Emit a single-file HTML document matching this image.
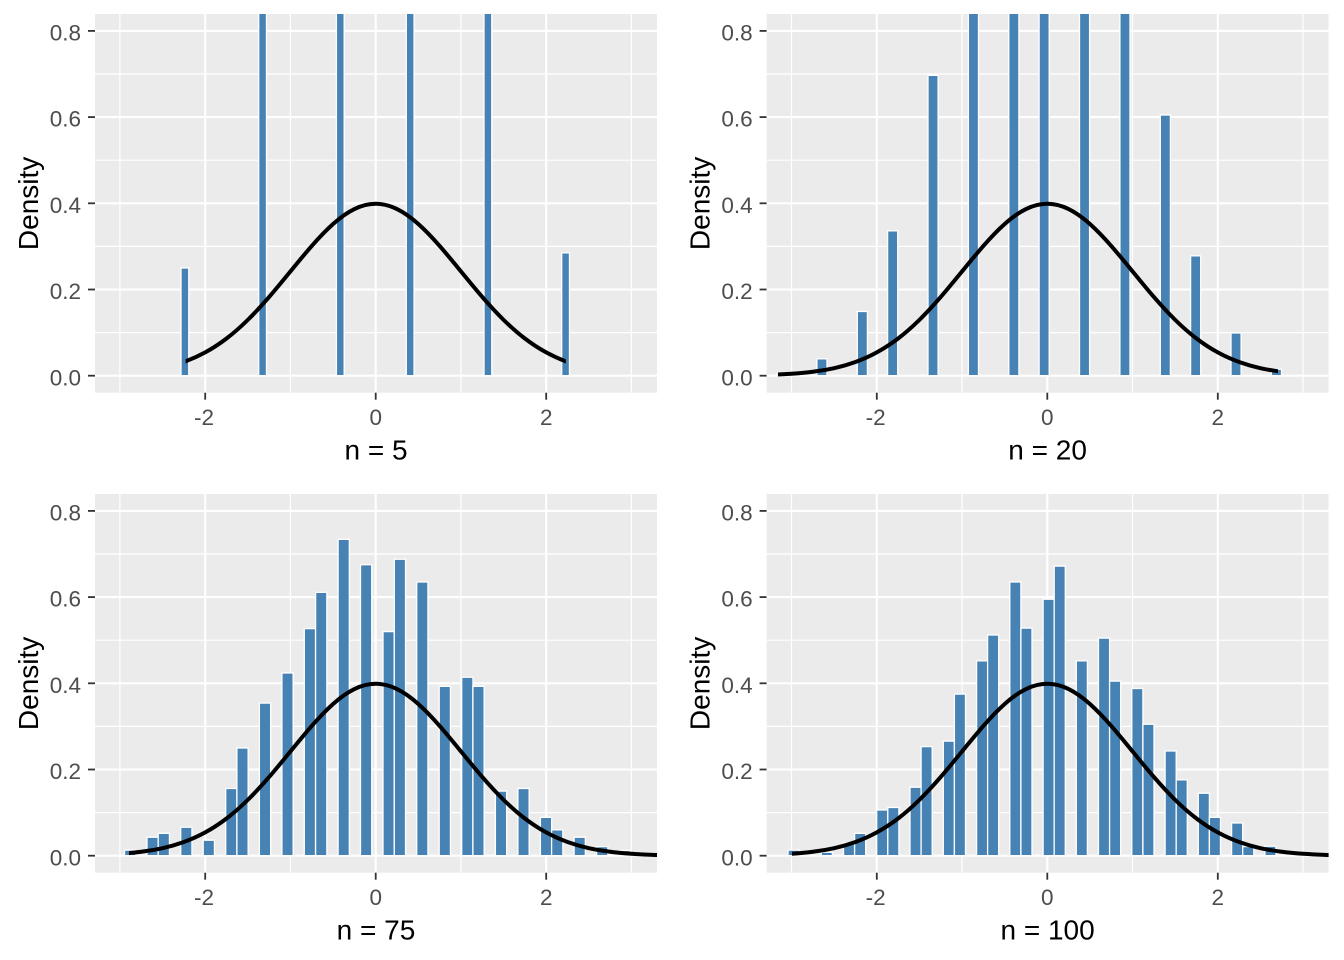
<!DOCTYPE html>
<html><head><meta charset="utf-8"><style>
html,body{margin:0;padding:0;background:#fff;}
svg{display:block;}
.tl{font-family:"Liberation Sans",Arial,sans-serif;font-size:22.5px;fill:#4D4D4D;}
.tt{font-family:"Liberation Sans",Arial,sans-serif;font-size:28px;fill:#000;}
.mn{stroke:#fff;stroke-width:1.2;}
.mj{stroke:#fff;stroke-width:2.1;}
.tk{stroke:#333;stroke-width:1.8;}
.bar rect{fill:#4682B4;stroke:#fff;stroke-width:1.3;vector-effect:non-scaling-stroke;}
.cv{fill:none;stroke:#000;stroke-width:4;vector-effect:non-scaling-stroke;stroke-linejoin:round;}
</style></head><body>
<svg width="1344" height="960" viewBox="0 0 1344 960" xmlns="http://www.w3.org/2000/svg">
<defs>
<clipPath id="pc" clipPathUnits="userSpaceOnUse"><rect x="95" y="14" width="562" height="378.7"/></clipPath>
<clipPath id="c1" clipPathUnits="userSpaceOnUse"><rect x="185.6" y="10" width="380.2" height="382.7"/></clipPath>
<clipPath id="c2" clipPathUnits="userSpaceOnUse"><rect x="106.4" y="10" width="500" height="382.7"/></clipPath>
<clipPath id="c3" clipPathUnits="userSpaceOnUse"><rect x="129" y="10" width="528" height="382.7"/></clipPath>
<clipPath id="c4" clipPathUnits="userSpaceOnUse"><rect x="120.4" y="10" width="536.6" height="382.7"/></clipPath>
<g id="frame">
<rect x="95" y="14" width="562" height="378.7" fill="#EBEBEB"/>
<line class="mn" x1="95" x2="657" y1="332.6" y2="332.6"/>
<line class="mn" x1="95" x2="657" y1="246.4" y2="246.4"/>
<line class="mn" x1="95" x2="657" y1="160.2" y2="160.2"/>
<line class="mn" x1="95" x2="657" y1="74.0" y2="74.0"/>
<line class="mn" x1="119.9" x2="119.9" y1="14" y2="392.7"/>
<line class="mn" x1="290.4" x2="290.4" y1="14" y2="392.7"/>
<line class="mn" x1="460.9" x2="460.9" y1="14" y2="392.7"/>
<line class="mn" x1="631.4" x2="631.4" y1="14" y2="392.7"/>
<line class="mj" x1="95" x2="657" y1="375.7" y2="375.7"/>
<line class="mj" x1="95" x2="657" y1="289.5" y2="289.5"/>
<line class="mj" x1="95" x2="657" y1="203.3" y2="203.3"/>
<line class="mj" x1="95" x2="657" y1="117.1" y2="117.1"/>
<line class="mj" x1="95" x2="657" y1="30.9" y2="30.9"/>
<line class="mj" x1="205.2" x2="205.2" y1="14" y2="392.7"/>
<line class="mj" x1="375.7" x2="375.7" y1="14" y2="392.7"/>
<line class="mj" x1="546.2" x2="546.2" y1="14" y2="392.7"/>
<line class="tk" x1="88" x2="95" y1="375.7" y2="375.7"/>
<line class="tk" x1="88" x2="95" y1="289.5" y2="289.5"/>
<line class="tk" x1="88" x2="95" y1="203.3" y2="203.3"/>
<line class="tk" x1="88" x2="95" y1="117.1" y2="117.1"/>
<line class="tk" x1="88" x2="95" y1="30.9" y2="30.9"/>
<line class="tk" x1="205.2" x2="205.2" y1="392.7" y2="399.7"/>
<line class="tk" x1="375.7" x2="375.7" y1="392.7" y2="399.7"/>
<line class="tk" x1="546.2" x2="546.2" y1="392.7" y2="399.7"/>
<text class="tl" x="81" y="385.3" text-anchor="end">0.0</text>
<text class="tl" x="81" y="299.1" text-anchor="end">0.2</text>
<text class="tl" x="81" y="212.9" text-anchor="end">0.4</text>
<text class="tl" x="81" y="126.7" text-anchor="end">0.6</text>
<text class="tl" x="81" y="40.5" text-anchor="end">0.8</text>
<text class="tl" x="204" y="425" text-anchor="middle">-2</text>
<text class="tl" x="375.7" y="425" text-anchor="middle">0</text>
<text class="tl" x="546.2" y="425" text-anchor="middle">2</text>
<text class="tt" transform="translate(38 203.4) rotate(-90)" text-anchor="middle">Density</text>
</g>
</defs>
<rect width="1344" height="960" fill="#fff"/>

<!-- Panel 1: n = 5 -->
<g>
<use href="#frame"/>
<g clip-path="url(#pc)"><g class="bar" transform="matrix(1,0,0,-431,0,375.7)">
<rect x="181.0" y="0" width="7.77" height="0.25"/>
<rect x="258.7" y="0" width="7.77" height="1"/>
<rect x="336.4" y="0" width="7.77" height="1"/>
<rect x="406.3" y="0" width="7.77" height="1"/>
<rect x="484.0" y="0" width="7.77" height="1"/>
<rect x="561.7" y="0" width="7.77" height="0.285"/>
</g></g>
<g clip-path="url(#c1)"><path class="cv" transform="matrix(85.25,0,0,-431,375.7,375.7)" d="M-3.5 0.00087 C-3.4167 0.00113 -3.3333 0.00148 -3.25 0.00203 C-3.1667 0.00258 -3.0833 0.00332 -3 0.00443 C-2.9167 0.00554 -2.8333 0.00701 -2.75 0.00909 C-2.6667 0.01117 -2.5833 0.01388 -2.5 0.01753 C-2.4167 0.02118 -2.3333 0.02579 -2.25 0.03174 C-2.1667 0.03769 -2.0833 0.04499 -2 0.05399 C-1.9167 0.06299 -1.8333 0.0737 -1.75 0.08628 C-1.6667 0.09886 -1.5833 0.11333 -1.5 0.12952 C-1.4167 0.14571 -1.3333 0.16362 -1.25 0.18265 C-1.1667 0.20168 -1.0833 0.22181 -1 0.24197 C-0.9167 0.26213 -0.8333 0.28232 -0.75 0.30114 C-0.6667 0.31996 -0.5833 0.3374 -0.5 0.35207 C-0.4167 0.36674 -0.3333 0.37861 -0.25 0.38667 C-0.1667 0.39473 -0.0833 0.39894 0 0.39894 C0.0833 0.39894 0.1667 0.39473 0.25 0.38667 C0.3333 0.37861 0.4167 0.36674 0.5 0.35207 C0.5833 0.3374 0.6667 0.31996 0.75 0.30114 C0.8333 0.28232 0.9167 0.26213 1 0.24197 C1.0833 0.22181 1.1667 0.20168 1.25 0.18265 C1.3333 0.16362 1.4167 0.14571 1.5 0.12952 C1.5833 0.11333 1.6667 0.09886 1.75 0.08628 C1.8333 0.0737 1.9167 0.06299 2 0.05399 C2.0833 0.04499 2.1667 0.03769 2.25 0.03174 C2.3333 0.02579 2.4167 0.02118 2.5 0.01753 C2.5833 0.01388 2.6667 0.01117 2.75 0.00909 C2.8333 0.00701 2.9167 0.00554 3 0.00443 C3.0833 0.00332 3.1667 0.00258 3.25 0.00203 C3.3333 0.00148 3.4167 0.00113 3.5 0.00087"/></g>
<text class="tt" x="376" y="459.5" text-anchor="middle">n = 5</text>
</g>

<!-- Panel 2: n = 20 -->
<g transform="translate(671.6 0)">
<use href="#frame"/>
<g clip-path="url(#pc)"><g class="bar" transform="matrix(1,0,0,-431,0,375.7)">
<rect x="104.9" y="0" width="10.1" height="0.004"/>
<rect x="145.3" y="0" width="10.1" height="0.039"/>
<rect x="185.7" y="0" width="10.1" height="0.149"/>
<rect x="216.0" y="0" width="10.1" height="0.336"/>
<rect x="256.4" y="0" width="10.1" height="0.697"/>
<rect x="296.8" y="0" width="10.1" height="1"/>
<rect x="337.2" y="0" width="10.1" height="1"/>
<rect x="367.5" y="0" width="10.1" height="1"/>
<rect x="407.9" y="0" width="10.1" height="1"/>
<rect x="448.3" y="0" width="10.1" height="1"/>
<rect x="488.7" y="0" width="10.1" height="0.605"/>
<rect x="519.0" y="0" width="10.1" height="0.278"/>
<rect x="559.4" y="0" width="10.1" height="0.099"/>
<rect x="599.8" y="0" width="10.1" height="0.015"/>
</g></g>
<g clip-path="url(#c2)"><path class="cv" transform="matrix(85.25,0,0,-431,375.7,375.7)" d="M-3.5 0.00087 C-3.4167 0.00113 -3.3333 0.00148 -3.25 0.00203 C-3.1667 0.00258 -3.0833 0.00332 -3 0.00443 C-2.9167 0.00554 -2.8333 0.00701 -2.75 0.00909 C-2.6667 0.01117 -2.5833 0.01388 -2.5 0.01753 C-2.4167 0.02118 -2.3333 0.02579 -2.25 0.03174 C-2.1667 0.03769 -2.0833 0.04499 -2 0.05399 C-1.9167 0.06299 -1.8333 0.0737 -1.75 0.08628 C-1.6667 0.09886 -1.5833 0.11333 -1.5 0.12952 C-1.4167 0.14571 -1.3333 0.16362 -1.25 0.18265 C-1.1667 0.20168 -1.0833 0.22181 -1 0.24197 C-0.9167 0.26213 -0.8333 0.28232 -0.75 0.30114 C-0.6667 0.31996 -0.5833 0.3374 -0.5 0.35207 C-0.4167 0.36674 -0.3333 0.37861 -0.25 0.38667 C-0.1667 0.39473 -0.0833 0.39894 0 0.39894 C0.0833 0.39894 0.1667 0.39473 0.25 0.38667 C0.3333 0.37861 0.4167 0.36674 0.5 0.35207 C0.5833 0.3374 0.6667 0.31996 0.75 0.30114 C0.8333 0.28232 0.9167 0.26213 1 0.24197 C1.0833 0.22181 1.1667 0.20168 1.25 0.18265 C1.3333 0.16362 1.4167 0.14571 1.5 0.12952 C1.5833 0.11333 1.6667 0.09886 1.75 0.08628 C1.8333 0.0737 1.9167 0.06299 2 0.05399 C2.0833 0.04499 2.1667 0.03769 2.25 0.03174 C2.3333 0.02579 2.4167 0.02118 2.5 0.01753 C2.5833 0.01388 2.6667 0.01117 2.75 0.00909 C2.8333 0.00701 2.9167 0.00554 3 0.00443 C3.0833 0.00332 3.1667 0.00258 3.25 0.00203 C3.3333 0.00148 3.4167 0.00113 3.5 0.00087"/></g>
<text class="tt" x="376" y="459.5" text-anchor="middle">n = 20</text>
</g>

<!-- Panel 3: n = 75 -->
<g transform="translate(0 480)">
<use href="#frame"/>
<g clip-path="url(#pc)"><g class="bar" transform="matrix(1,0,0,-431,0,375.7)">
<rect x="124.5" y="0" width="11.24" height="0.013"/>
<rect x="147.0" y="0" width="11.24" height="0.043"/>
<rect x="158.2" y="0" width="11.24" height="0.052"/>
<rect x="180.7" y="0" width="11.24" height="0.066"/>
<rect x="203.2" y="0" width="11.24" height="0.036"/>
<rect x="225.7" y="0" width="11.24" height="0.156"/>
<rect x="236.9" y="0" width="11.24" height="0.25"/>
<rect x="259.4" y="0" width="11.24" height="0.354"/>
<rect x="281.9" y="0" width="11.24" height="0.424"/>
<rect x="304.3" y="0" width="11.24" height="0.527"/>
<rect x="315.6" y="0" width="11.24" height="0.611"/>
<rect x="338.1" y="0" width="11.24" height="0.734"/>
<rect x="360.5" y="0" width="11.24" height="0.675"/>
<rect x="383.0" y="0" width="11.24" height="0.52"/>
<rect x="394.3" y="0" width="11.24" height="0.688"/>
<rect x="416.7" y="0" width="11.24" height="0.635"/>
<rect x="439.2" y="0" width="11.24" height="0.393"/>
<rect x="461.7" y="0" width="11.24" height="0.414"/>
<rect x="472.9" y="0" width="11.24" height="0.393"/>
<rect x="495.4" y="0" width="11.24" height="0.15"/>
<rect x="517.9" y="0" width="11.24" height="0.156"/>
<rect x="540.4" y="0" width="11.24" height="0.089"/>
<rect x="551.6" y="0" width="11.24" height="0.06"/>
<rect x="574.1" y="0" width="11.24" height="0.043"/>
<rect x="596.6" y="0" width="11.24" height="0.021"/>
<rect x="619.1" y="0" width="11.24" height="0.012"/>
</g></g>
<g clip-path="url(#c3)"><path class="cv" transform="matrix(85.25,0,0,-431,375.7,375.7)" d="M-3.5 0.00087 C-3.4167 0.00113 -3.3333 0.00148 -3.25 0.00203 C-3.1667 0.00258 -3.0833 0.00332 -3 0.00443 C-2.9167 0.00554 -2.8333 0.00701 -2.75 0.00909 C-2.6667 0.01117 -2.5833 0.01388 -2.5 0.01753 C-2.4167 0.02118 -2.3333 0.02579 -2.25 0.03174 C-2.1667 0.03769 -2.0833 0.04499 -2 0.05399 C-1.9167 0.06299 -1.8333 0.0737 -1.75 0.08628 C-1.6667 0.09886 -1.5833 0.11333 -1.5 0.12952 C-1.4167 0.14571 -1.3333 0.16362 -1.25 0.18265 C-1.1667 0.20168 -1.0833 0.22181 -1 0.24197 C-0.9167 0.26213 -0.8333 0.28232 -0.75 0.30114 C-0.6667 0.31996 -0.5833 0.3374 -0.5 0.35207 C-0.4167 0.36674 -0.3333 0.37861 -0.25 0.38667 C-0.1667 0.39473 -0.0833 0.39894 0 0.39894 C0.0833 0.39894 0.1667 0.39473 0.25 0.38667 C0.3333 0.37861 0.4167 0.36674 0.5 0.35207 C0.5833 0.3374 0.6667 0.31996 0.75 0.30114 C0.8333 0.28232 0.9167 0.26213 1 0.24197 C1.0833 0.22181 1.1667 0.20168 1.25 0.18265 C1.3333 0.16362 1.4167 0.14571 1.5 0.12952 C1.5833 0.11333 1.6667 0.09886 1.75 0.08628 C1.8333 0.0737 1.9167 0.06299 2 0.05399 C2.0833 0.04499 2.1667 0.03769 2.25 0.03174 C2.3333 0.02579 2.4167 0.02118 2.5 0.01753 C2.5833 0.01388 2.6667 0.01117 2.75 0.00909 C2.8333 0.00701 2.9167 0.00554 3 0.00443 C3.0833 0.00332 3.1667 0.00258 3.25 0.00203 C3.3333 0.00148 3.4167 0.00113 3.5 0.00087"/></g>
<text class="tt" x="376" y="459.5" text-anchor="middle">n = 75</text>
</g>

<!-- Panel 4: n = 100 -->
<g transform="translate(671.6 480)">
<use href="#frame"/>
<g clip-path="url(#pc)"><g class="bar" transform="matrix(1,0,0,-431,0,375.7)">
<rect x="116.4" y="0" width="11.09" height="0.013"/>
<rect x="149.7" y="0" width="11.09" height="0.008"/>
<rect x="171.9" y="0" width="11.09" height="0.03"/>
<rect x="183.0" y="0" width="11.09" height="0.052"/>
<rect x="205.1" y="0" width="11.09" height="0.106"/>
<rect x="216.2" y="0" width="11.09" height="0.112"/>
<rect x="238.4" y="0" width="11.09" height="0.159"/>
<rect x="249.5" y="0" width="11.09" height="0.253"/>
<rect x="271.7" y="0" width="11.09" height="0.266"/>
<rect x="282.8" y="0" width="11.09" height="0.375"/>
<rect x="305.0" y="0" width="11.09" height="0.452"/>
<rect x="316.0" y="0" width="11.09" height="0.512"/>
<rect x="338.2" y="0" width="11.09" height="0.635"/>
<rect x="349.3" y="0" width="11.09" height="0.528"/>
<rect x="371.5" y="0" width="11.09" height="0.595"/>
<rect x="382.6" y="0" width="11.09" height="0.672"/>
<rect x="404.7" y="0" width="11.09" height="0.452"/>
<rect x="426.9" y="0" width="11.09" height="0.505"/>
<rect x="438.0" y="0" width="11.09" height="0.405"/>
<rect x="460.2" y="0" width="11.09" height="0.388"/>
<rect x="471.3" y="0" width="11.09" height="0.305"/>
<rect x="493.5" y="0" width="11.09" height="0.243"/>
<rect x="504.6" y="0" width="11.09" height="0.176"/>
<rect x="526.7" y="0" width="11.09" height="0.145"/>
<rect x="537.8" y="0" width="11.09" height="0.089"/>
<rect x="560.0" y="0" width="11.09" height="0.076"/>
<rect x="571.1" y="0" width="11.09" height="0.021"/>
<rect x="593.3" y="0" width="11.09" height="0.022"/>
</g></g>
<g clip-path="url(#c4)"><path class="cv" transform="matrix(85.25,0,0,-431,375.7,375.7)" d="M-3.5 0.00087 C-3.4167 0.00113 -3.3333 0.00148 -3.25 0.00203 C-3.1667 0.00258 -3.0833 0.00332 -3 0.00443 C-2.9167 0.00554 -2.8333 0.00701 -2.75 0.00909 C-2.6667 0.01117 -2.5833 0.01388 -2.5 0.01753 C-2.4167 0.02118 -2.3333 0.02579 -2.25 0.03174 C-2.1667 0.03769 -2.0833 0.04499 -2 0.05399 C-1.9167 0.06299 -1.8333 0.0737 -1.75 0.08628 C-1.6667 0.09886 -1.5833 0.11333 -1.5 0.12952 C-1.4167 0.14571 -1.3333 0.16362 -1.25 0.18265 C-1.1667 0.20168 -1.0833 0.22181 -1 0.24197 C-0.9167 0.26213 -0.8333 0.28232 -0.75 0.30114 C-0.6667 0.31996 -0.5833 0.3374 -0.5 0.35207 C-0.4167 0.36674 -0.3333 0.37861 -0.25 0.38667 C-0.1667 0.39473 -0.0833 0.39894 0 0.39894 C0.0833 0.39894 0.1667 0.39473 0.25 0.38667 C0.3333 0.37861 0.4167 0.36674 0.5 0.35207 C0.5833 0.3374 0.6667 0.31996 0.75 0.30114 C0.8333 0.28232 0.9167 0.26213 1 0.24197 C1.0833 0.22181 1.1667 0.20168 1.25 0.18265 C1.3333 0.16362 1.4167 0.14571 1.5 0.12952 C1.5833 0.11333 1.6667 0.09886 1.75 0.08628 C1.8333 0.0737 1.9167 0.06299 2 0.05399 C2.0833 0.04499 2.1667 0.03769 2.25 0.03174 C2.3333 0.02579 2.4167 0.02118 2.5 0.01753 C2.5833 0.01388 2.6667 0.01117 2.75 0.00909 C2.8333 0.00701 2.9167 0.00554 3 0.00443 C3.0833 0.00332 3.1667 0.00258 3.25 0.00203 C3.3333 0.00148 3.4167 0.00113 3.5 0.00087"/></g>
<text class="tt" x="376" y="459.5" text-anchor="middle">n = 100</text>
</g>
</svg>
</body></html>
